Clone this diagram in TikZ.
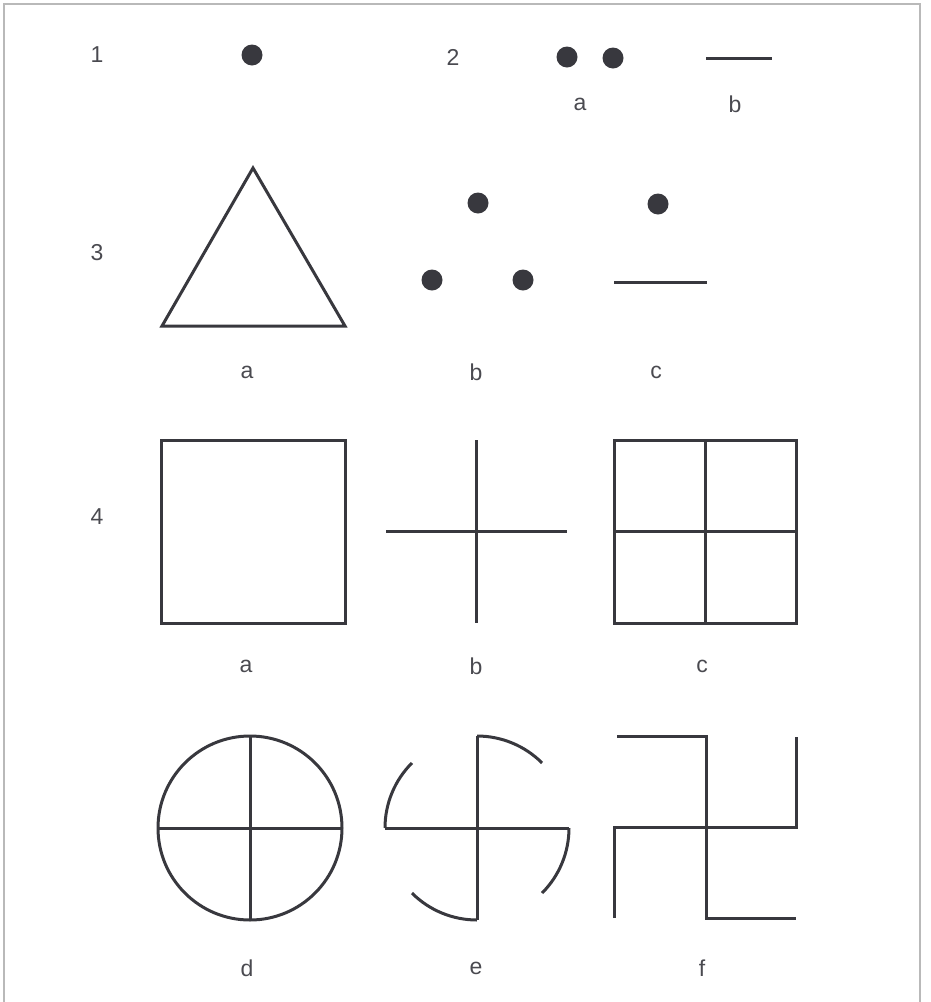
\documentclass[tikz,border=0pt]{standalone}
\usepackage{fontspec}
\setmainfont{Liberation Sans}
\definecolor{ink}{HTML}{38383E}
\definecolor{labc}{HTML}{4A4A50}
\begin{document}
\begin{tikzpicture}[x=1pt,y=-1pt,
  fig/.style={line width=3pt, draw=ink, line join=miter},
  dotnode/.style={circle, fill=ink, minimum size=21pt, inner sep=0pt},
  lab/.style={text=labc, font=\fontsize{23}{23}\selectfont, inner sep=0pt, anchor=center},
  framec/.style={draw=gray!55, line width=1.2pt}]
\useasboundingbox (0,0) rectangle (931,1002);
\draw[framec] (4,1002) -- (4,4) -- (920,4) -- (920,1002);

% row 1 and 2
\node[lab] (n1) at (97,55) {1};
\node[dotnode] (d1) at (252,55) {};
\node[lab] (n2) at (453,57) {2};
\node[dotnode] (d2a) at (567,57) {};
\node[dotnode] (d2b) at (613,58) {};
\coordinate (l2a) at (706,58);
\coordinate (l2b) at (772,58);
\draw[fig] (l2a) -- (l2b);
\node[lab] (a2) at (580,104) {a};
\node[lab] (b2) at (735,104) {b};

% row 3
\node[lab] (n3) at (97,253) {3};
\coordinate (t1) at (253,168);
\coordinate (t2) at (345,326);
\coordinate (t3) at (162,326);
\draw[fig] (t1) -- (t2) -- (t3) -- cycle;
\node[lab] (a3) at (247,372) {a};
\node[dotnode] (d3a) at (478,203) {};
\node[dotnode] (d3b) at (432,280) {};
\node[dotnode] (d3c) at (523,280) {};
\node[lab] (b3) at (476,372) {b};
\node[dotnode] (d3d) at (658,204) {};
\coordinate (l3a) at (614,282);
\coordinate (l3b) at (707,282);
\draw[fig] (l3a) -- (l3b);
\node[lab] (c3) at (656,372) {c};

% row 4
\node[lab] (n4) at (97,517) {4};
\draw[fig] (161,440) rectangle (345,623);
\node[lab] (a4) at (246,666) {a};
\draw[fig] (476,440) -- (476,623);
\draw[fig] (386,531) -- (567,531);
\node[lab] (b4) at (476,666) {b};
\draw[fig] (614,440) rectangle (796,623);
\draw[fig] (705,440) -- (705,623);
\draw[fig] (614,531) -- (796,531);
\node[lab] (c4) at (702,666) {c};

% row 5
\coordinate (cd) at (250,828);
\draw[fig] (cd) circle[radius=92];
\draw[fig] (250,736) -- (250,920);
\draw[fig] (158,828) -- (342,828);
\node[lab] (d5) at (247,968) {d};

\coordinate (ce) at (477,828);
\draw[fig] (477,736) -- (477,920);
\draw[fig] (385,828) -- (569,828);
\draw[fig] (477,736) arc[start angle=-90, end angle=-45, radius=92];
\draw[fig] (569,828) arc[start angle=0, end angle=45, radius=92];
\draw[fig] (477,920) arc[start angle=90, end angle=135, radius=92];
\draw[fig] (385,828) arc[start angle=180, end angle=225, radius=92];
\node[lab] (e5) at (476,968) {e};

\coordinate (cf) at (706,827);
\draw[fig] (617,736) -- (706,736) -- (706,918) -- (796,918);
\draw[fig] (614,918) -- (614,827) -- (796,827) -- (796,737);
\node[lab] (f5) at (702,968) {f};
\end{tikzpicture}
\end{document}
